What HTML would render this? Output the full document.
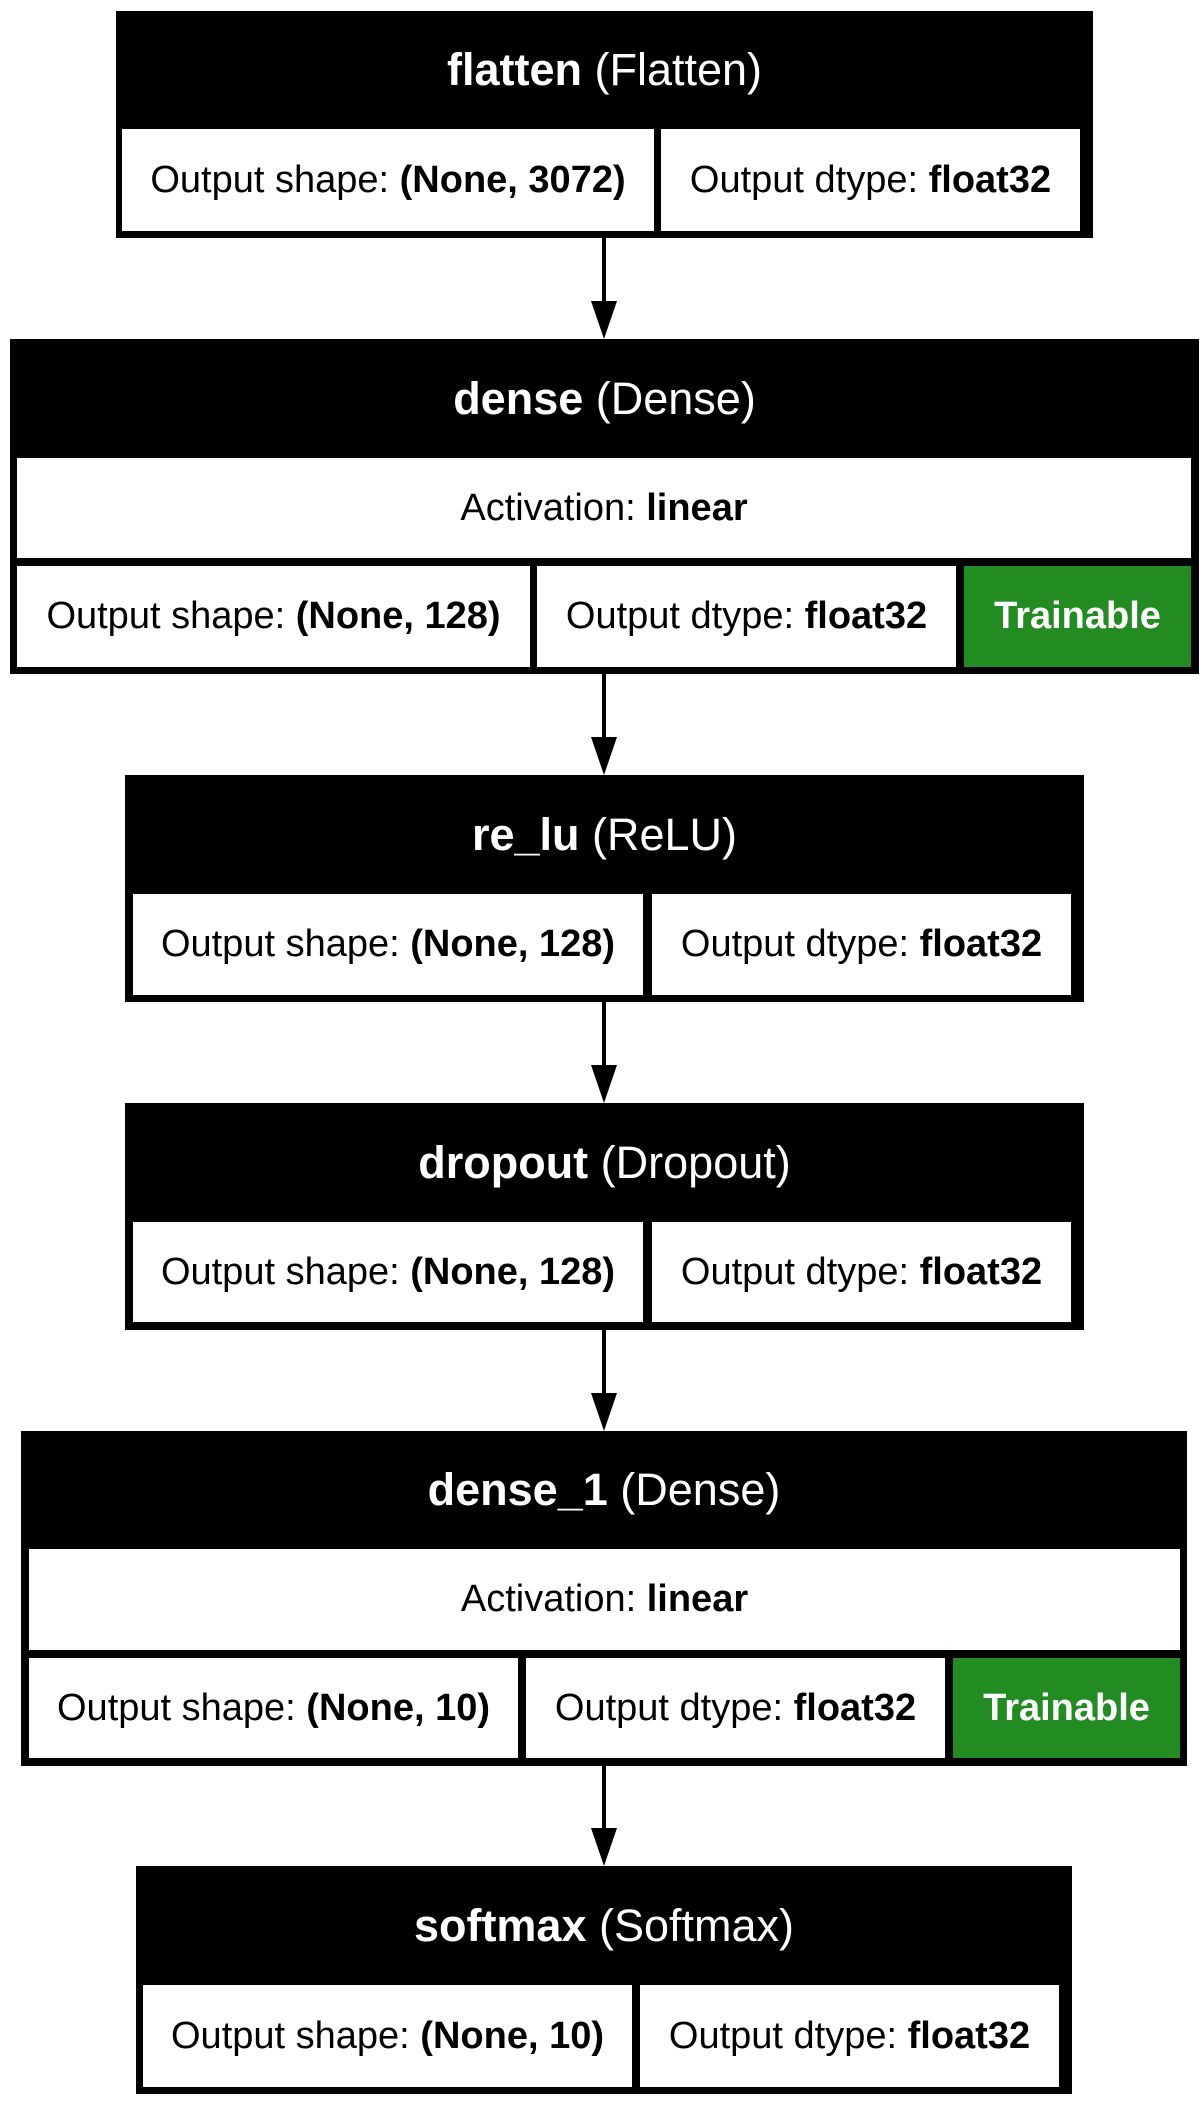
<!DOCTYPE html>
<html><head><meta charset="utf-8"><style>
html,body{margin:0;padding:0;background:#fff;}
body{width:1203px;height:2106px;position:relative;overflow:hidden;font-family:"Liberation Sans",Arial,sans-serif;}
.box{position:absolute;background:#000;}
.hd{position:absolute;left:0;right:0;display:flex;align-items:center;justify-content:center;color:#fff;font-size:45px;white-space:nowrap;}
.c{position:absolute;background:#fff;display:flex;align-items:center;justify-content:center;font-size:38px;color:#000;white-space:nowrap;}
.g{background:#228b22;color:#fff;font-weight:bold;}
b{font-weight:bold;}
svg{position:absolute;left:0;top:0;}
</style></head><body>
<svg width="1203" height="2106">
<g stroke="#000" stroke-width="4">
<line x1="604" y1="238" x2="604" y2="305"/>
<line x1="604" y1="674" x2="604" y2="740"/>
<line x1="604" y1="1002" x2="604" y2="1068"/>
<line x1="604" y1="1330" x2="604" y2="1396"/>
<line x1="604" y1="1766" x2="604" y2="1831"/>
</g>
<g fill="#000">
<polygon points="591,301 617,301 604,339"/>
<polygon points="591,737 617,737 604,775"/>
<polygon points="591,1065 617,1065 604,1103"/>
<polygon points="591,1393 617,1393 604,1431"/>
<polygon points="591,1828 617,1828 604,1866"/>
</g>
</svg>

<div class="box" style="left:116px;top:11px;width:977px;height:227px;">
<div class="hd" style="top:0;height:118px;"><b>flatten</b>&nbsp;(Flatten)</div>
</div>
<div class="c" style="left:122px;top:129px;width:532px;height:102px;">Output shape:&nbsp;<b>(None, 3072)</b></div>
<div class="c" style="left:661px;top:129px;width:419px;height:102px;">Output dtype:&nbsp;<b>float32</b></div>

<div class="box" style="left:10px;top:339px;width:1189px;height:335px;">
<div class="hd" style="top:0;height:119px;"><b>dense</b>&nbsp;(Dense)</div>
</div>
<div class="c" style="left:17px;top:458px;width:1174px;height:100px;">Activation:&nbsp;<b>linear</b></div>
<div class="c" style="left:17px;top:566px;width:513px;height:101px;">Output shape:&nbsp;<b>(None, 128)</b></div>
<div class="c" style="left:537px;top:566px;width:419px;height:101px;">Output dtype:&nbsp;<b>float32</b></div>
<div class="c g" style="left:964px;top:566px;width:227px;height:101px;">Trainable</div>

<div class="box" style="left:125px;top:775px;width:959px;height:227px;">
<div class="hd" style="top:0;height:119px;"><b>re_lu</b>&nbsp;(ReLU)</div>
</div>
<div class="c" style="left:133px;top:894px;width:510px;height:101px;">Output shape:&nbsp;<b>(None, 128)</b></div>
<div class="c" style="left:652px;top:894px;width:419px;height:101px;">Output dtype:&nbsp;<b>float32</b></div>

<div class="box" style="left:125px;top:1103px;width:959px;height:227px;">
<div class="hd" style="top:0;height:119px;"><b>dropout</b>&nbsp;(Dropout)</div>
</div>
<div class="c" style="left:133px;top:1222px;width:510px;height:100px;">Output shape:&nbsp;<b>(None, 128)</b></div>
<div class="c" style="left:652px;top:1222px;width:419px;height:100px;">Output dtype:&nbsp;<b>float32</b></div>

<div class="box" style="left:21px;top:1431px;width:1166px;height:335px;">
<div class="hd" style="top:0;height:118px;"><b>dense_1</b>&nbsp;(Dense)</div>
</div>
<div class="c" style="left:29px;top:1549px;width:1151px;height:101px;">Activation:&nbsp;<b>linear</b></div>
<div class="c" style="left:29px;top:1658px;width:489px;height:100px;">Output shape:&nbsp;<b>(None, 10)</b></div>
<div class="c" style="left:526px;top:1658px;width:419px;height:100px;">Output dtype:&nbsp;<b>float32</b></div>
<div class="c g" style="left:953px;top:1658px;width:227px;height:100px;">Trainable</div>

<div class="box" style="left:136px;top:1866px;width:936px;height:228px;">
<div class="hd" style="top:0;height:119px;"><b>softmax</b>&nbsp;(Softmax)</div>
</div>
<div class="c" style="left:143px;top:1985px;width:489px;height:102px;">Output shape:&nbsp;<b>(None, 10)</b></div>
<div class="c" style="left:640px;top:1985px;width:419px;height:102px;">Output dtype:&nbsp;<b>float32</b></div>
</body></html>
